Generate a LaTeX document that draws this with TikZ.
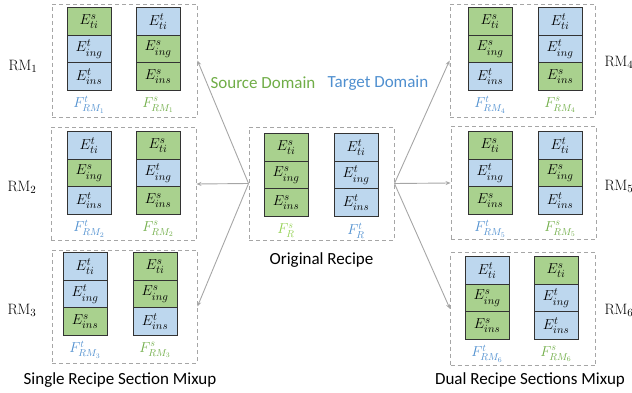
\documentclass[tikz,border=0pt]{standalone}
\usepackage{amsmath}
\usepackage{xcolor}
\usepackage{fontspec}
\newfontfamily\calibri{Carlito}
\usepackage{tikz}
\usetikzlibrary{positioning,arrows.meta}

\definecolor{sfill}{HTML}{A9D18E}
\definecolor{tfill}{HTML}{BDD7EE}
\definecolor{srctext}{HTML}{70AD47}
\definecolor{tgttext}{HTML}{4F8FCF}
\definecolor{origsrc}{HTML}{92D050}
\definecolor{frame}{HTML}{A6A6A6}
\newcommand{\Flab}[3]{\textcolor{#1}{$F^{#2}_{#3}$}}

\begin{document}
\begin{tikzpicture}[x=1pt,y=-1pt]
  \tikzstyle{sec}=[draw=black!80,line width=0.8pt,minimum width=44pt,minimum height=27.5pt,inner sep=0pt,font=\fontsize{15.5}{18}\selectfont]
  \tikzstyle{secfill}=[fill=#1fill]
  \tikzstyle{panel}=[draw=frame,dash pattern=on 4pt off 3pt,line width=0.9pt,minimum width=145pt,minimum height=113pt,inner sep=0pt]
  \tikzstyle{flab}=[font=\fontsize{14}{16}\selectfont,inner sep=0pt]
  \tikzstyle{rmlab}=[font=\fontsize{15}{18}\selectfont]
  \tikzstyle{caption}=[font=\calibri\fontsize{17}{20}\selectfont]
  \tikzstyle{mix}=[draw=frame,line width=0.9pt,-{Stealth[length=5pt,width=4pt]}]

  \useasboundingbox (0,0) rectangle (632,393);

  % recipe columns: name / left x / right x / top y / six sections / two labels
  \foreach \p/\xa/\xb/\yt/\fa/\fb/\fc/\fd/\fe/\ff/\la/\lb in {
      rmone/67/136/8/s/t/t/t/s/s/{\Flab{tgttext}{t}{RM_1}}/{\Flab{srctext}{s}{RM_1}},
      rmtwo/67/136/132/t/s/t/s/t/s/{\Flab{tgttext}{t}{RM_2}}/{\Flab{srctext}{s}{RM_2}},
      rmthree/63/133/253/t/t/s/s/s/t/{\Flab{tgttext}{t}{RM_3}}/{\Flab{srctext}{s}{RM_3}},
      orig/264/334/134/s/s/s/t/t/t/{\Flab{origsrc}{s}{R}}/{\Flab{tgttext}{t}{R}},
      rmfour/468/538/8/s/s/t/t/t/s/{\Flab{tgttext}{t}{RM_4}}/{\Flab{srctext}{s}{RM_4}},
      rmfive/468/538/132/s/t/s/t/s/t/{\Flab{tgttext}{t}{RM_5}}/{\Flab{srctext}{s}{RM_5}},
      rmsix/465/534/257/t/s/s/s/t/t/{\Flab{tgttext}{t}{RM_6}}/{\Flab{srctext}{s}{RM_6}}}{
    \node[sec,secfill=\fa] (\p-a1) at (\xa+22,\yt+13.5) {$E^{\fa}_{ti}$};
    \node[sec,secfill=\fb,below=-0.8pt of \p-a1] (\p-a2) {$E^{\fb}_{ing}$};
    \node[sec,secfill=\fc,below=-0.8pt of \p-a2] (\p-a3) {$E^{\fc}_{ins}$};
    \node[sec,secfill=\fd] (\p-b1) at (\xb+22,\yt+13.5) {$E^{\fd}_{ti}$};
    \node[sec,secfill=\fe,below=-0.8pt of \p-b1] (\p-b2) {$E^{\fe}_{ing}$};
    \node[sec,secfill=\ff,below=-0.8pt of \p-b2] (\p-b3) {$E^{\ff}_{ins}$};
    \node[flab] (\p-la) at (\xa+22,\yt+97) {\la};
    \node[flab] (\p-lb) at (\xb+22,\yt+97) {\lb};
  }

  % dashed frames
  \node[panel] (rmone) at (124.5,60.5) {};
  \node[panel] (rmtwo) at (123.5,184) {};
  \node[panel] (rmthree) at (124.5,306.5) {};
  \node[panel] (orig) at (321.5,183.5) {};
  \node[panel] (rmfour) at (522.5,60.5) {};
  \node[panel] (rmfive) at (523.5,183) {};
  \node[panel] (rmsix) at (523,309) {};

  \node[rmlab] (rmonename) at (23,66) {$\mathrm{RM}_1$};
  \node[rmlab] (rmtwoname) at (22,187) {$\mathrm{RM}_2$};
  \node[rmlab] (rmthreename) at (22,310) {$\mathrm{RM}_3$};
  \node[rmlab] (rmfourname) at (619,62) {$\mathrm{RM}_4$};
  \node[rmlab] (rmfivename) at (619,186) {$\mathrm{RM}_5$};
  \node[rmlab] (rmsixname) at (619,310) {$\mathrm{RM}_6$};

  \node[caption,text=srctext] (srcname) at (263,83) {Source Domain};
  \node[caption,text=tgttext] (tgtname) at (378,83) {Target Domain};
  \node[caption] (origname) at (321.5,260) {Original Recipe};
  \node[caption] (singlename) at (120,380) {Single Recipe Section Mixup};
  \node[caption] (dualname) at (530,380) {Dual Recipe Sections Mixup};

  \draw[mix] (orig.west) -- (rmone.east);
  \draw[mix] (orig.west) -- (rmtwo.east);
  \draw[mix] (orig.west) -- (rmthree.east);
  \draw[mix] (orig.east) -- (rmfour.west);
  \draw[mix] (orig.east) -- (rmfive.west);
  \draw[mix] (orig.east) -- (rmsix.west);
\end{tikzpicture}
\end{document}
